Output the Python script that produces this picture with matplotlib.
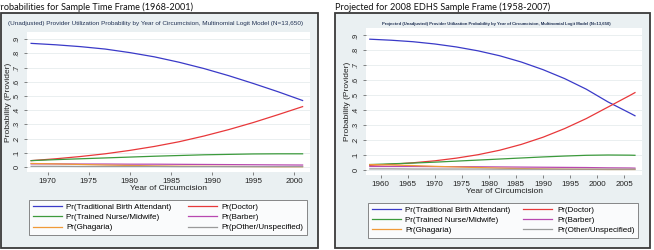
import matplotlib
matplotlib.use("Agg")
import matplotlib.pyplot as plt
from matplotlib.patches import Rectangle

W, H = 654, 250

# ---------------- data ----------------
years_left = [1968, 1971, 1974, 1977, 1980, 1983, 1986, 1989, 1992, 1995, 1998, 2001]
tba_left = [0.870, 0.860, 0.847, 0.830, 0.805, 0.775, 0.737, 0.693, 0.643, 0.588, 0.530, 0.468]
doctor_left = [0.045, 0.058, 0.074, 0.093, 0.117, 0.145, 0.178, 0.218, 0.263, 0.313, 0.368, 0.425]
nurse_left = [0.045, 0.052, 0.058, 0.064, 0.070, 0.076, 0.081, 0.086, 0.089, 0.092, 0.093, 0.093]
barber_left = [0.022, 0.022, 0.021, 0.021, 0.020, 0.020, 0.019, 0.018, 0.017, 0.016, 0.015, 0.014]
ghagaria_left = [0.025, 0.022, 0.018, 0.014, 0.011, 0.008, 0.006, 0.005, 0.004, 0.003, 0.002, 0.002]
other_left = [0.005, 0.005, 0.004, 0.004, 0.004, 0.004, 0.003, 0.003, 0.003, 0.003, 0.003, 0.003]

years_right = [1958, 1962, 1966, 1970, 1974, 1978, 1982, 1986, 1990, 1994, 1998, 2002, 2006, 2007]
tba_right = [0.875, 0.868, 0.858, 0.843, 0.823, 0.797, 0.764, 0.722, 0.671, 0.611, 0.540, 0.455, 0.381, 0.362]
doctor_right = [0.030, 0.037, 0.047, 0.060, 0.078, 0.101, 0.131, 0.170, 0.218, 0.276, 0.343, 0.420, 0.497, 0.517]
nurse_right = [0.035, 0.040, 0.045, 0.051, 0.058, 0.065, 0.072, 0.079, 0.086, 0.092, 0.097, 0.099, 0.098, 0.097]
barber_right = [0.022, 0.022, 0.022, 0.021, 0.021, 0.020, 0.019, 0.018, 0.017, 0.016, 0.015, 0.013, 0.012, 0.011]
ghagaria_right = [0.035, 0.032, 0.028, 0.023, 0.019, 0.015, 0.011, 0.008, 0.006, 0.004, 0.003, 0.002, 0.002, 0.002]
other_right = [0.006, 0.006, 0.005, 0.005, 0.005, 0.005, 0.004, 0.004, 0.004, 0.004, 0.004, 0.004, 0.004, 0.004]

series_labels = ["Pr(Traditional Birth Attendant)", "Pr(Doctor)",
                 "Pr(Trained Nurse/Midwife)", "Pr(Barber)",
                 "Pr(Ghagaria)", "Pr(Other/Unspecified)"]
series_labels_left = ["Pr(Traditional Birth Attendant)", "Pr(Doctor)",
                      "Pr(Trained Nurse/Midwife)", "Pr(Barber)",
                      "Pr(Ghagaria)", "Pr(pOther/Unspecified)"]
colors = ["#3a3ac8", "#e8383a", "#3c9a3c", "#b848b0", "#f09a38", "#9a9a9a"]

yticks = [0, 0.1, 0.2, 0.3, 0.4, 0.5, 0.6, 0.7, 0.8, 0.9]
ytick_labels = ["0", ".1", ".2", ".3", ".4", ".5", ".6", ".7", ".8", ".9"]
xticks_left = [1970, 1975, 1980, 1985, 1990, 1995, 2000]
xticks_right = [1960, 1965, 1970, 1975, 1980, 1985, 1990, 1995, 2000, 2005]

title_left = "Probabilities for Sample Time Frame (1968-2001)"
title_right = "Projected for 2008 EDHS Sample Frame (1958-2007)"
sub_left = "(Unadjusted) Provider Utilization Probability by Year of Circumcision, Multinomial Logit Model (N=13,650)"
sub_right = "Projected (Unadjusted) Provider Utilization Probability by Year of Circumcision, Multinomial Logit Model (N=13,650)"

# --------------- helpers ---------------
def fx(x):
    return x / W

def fy(y):
    return 1 - y / H

def box(x0, y0, x1, y1):
    return [fx(x0), fy(y1), fx(x1) - fx(x0), fy(y0) - fy(y1)]

fig = plt.figure(figsize=(W / 100, H / 100), dpi=100)
fig.patch.set_facecolor("white")

BG = "#eaf0f2"
sans = ["Liberation Sans", "DejaVu Sans"]

def panel(frame, axbox, legbox, years, ser, xticks, xlim, sub, sub_size, sub_weight, sub_x,
          title, title_x, labels):
    fx0, fy0, fx1, fy1 = frame
    fig.patches.append(Rectangle((fx(fx0), fy(fy1)), fx(fx1) - fx(fx0), fy(fy0) - fy(fy1),
                                 transform=fig.transFigure, facecolor=BG,
                                 edgecolor="#3a3a3a", lw=1.3, zorder=-5))
    ax = fig.add_axes(box(*axbox))
    ax.set_zorder(2)
    ax.set_facecolor("white")
    lines = []
    for s, c in zip(ser, colors):
        ln, = ax.plot(years, s, color=c, lw=0.9)
        lines.append(ln)
    ax.set_xlim(*xlim)
    ax.set_ylim(-0.035, 0.95)
    ax.set_yticks(yticks)
    ax.set_yticklabels(ytick_labels, rotation=90, va="center", family=sans, fontsize=5.3)
    ax.set_xticks(xticks)
    ax.set_xticklabels([str(t) for t in xticks], family=sans, fontsize=5.8)
    ax.tick_params(length=2.5, width=0.5, color="#555555", pad=2, labelcolor="#222222")
    ax.grid(axis="y", color="#e6ecee", lw=0.6)
    for sp in ax.spines.values():
        sp.set_visible(False)
    ax.set_xlabel("Year of Circumcision", family=sans, fontsize=6.0, labelpad=0, color="#222222")
    ax.set_ylabel("Probability (Provider)", family=sans, fontsize=6.0, labelpad=1, color="#222222")
    # inner subtitle
    fig.text(fx(sub_x), fy(frame[1] + 11), sub, ha="center", va="center",
             family=sans, fontsize=sub_size, fontweight=sub_weight, color="#223355", zorder=3)
    # outer title
    fig.text(fx(title_x), fy(10), title, ha="left", va="baseline",
             family=["Lato", "DejaVu Sans"], fontsize=6.6, color="#111111")
    # legend (row-wise order as in the reference)
    order = [0, 2, 4, 1, 3, 5]
    lg = ax.legend([lines[i] for i in order], [labels[i] for i in order], ncol=2, loc="center",
                   bbox_to_anchor=box(*legbox), bbox_transform=fig.transFigure,
                   mode="expand", frameon=True, fancybox=False,
                   prop={"family": sans, "size": 5.8}, handlelength=3.6,
                   handletextpad=0.6, labelspacing=0.3, borderaxespad=0,
                   borderpad=0.45, columnspacing=1.5)
    lg.get_frame().set_edgecolor("#555555")
    lg.get_frame().set_linewidth(0.6)
    return ax

panel((1, 13, 318, 248), (27, 32, 310, 172), (29, 198, 307, 237),
      years_left, [tba_left, doctor_left, nurse_left, barber_left, ghagaria_left, other_left],
      xticks_left, (1967.5, 2001.9), sub_left, 4.6, "normal", 156, title_left, -5,
      series_labels_left)

panel((335, 13, 650, 248), (366, 28, 642, 175), (368, 202, 638, 238),
      years_right, [tba_right, doctor_right, nurse_right, barber_right, ghagaria_right, other_right],
      xticks_right, (1957.3, 2008.3), sub_right, 3.1, "bold", 496, title_right, 335,
      series_labels)

fig.savefig("out.png", dpi=100)
